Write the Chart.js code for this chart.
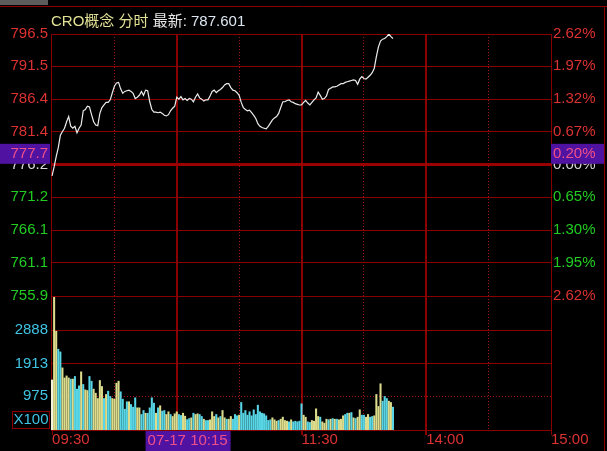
<!DOCTYPE html>
<html>
<head>
<meta charset="utf-8">
<script src="https://cdn.jsdelivr.net/npm/chart.js@4"></script>
<style>
  html, body { margin: 0; padding: 0; background: #000; }
  #wrap { position: relative; width: 607px; height: 451px; overflow: hidden; background: #000; }
  #wrap canvas { position: absolute; left: 0; top: 0; }
</style>
</head>
<body>
<div id="wrap">
  <canvas id="volChart" width="607" height="451"></canvas>
  <canvas id="priceChart" width="607" height="451"></canvas>
</div>
<script>
// index / quote info
const indexName = 'CRO概念';
const viewName = '分时';
const lastLabel = '最新:';
const lastValue = '787.601';
const prevClose = 776.2;

// price axis (ascending) and the matching percent labels
const priceTicks = [755.9, 761.1, 766.1, 771.2, 776.2, 781.4, 786.4, 791.5, 796.5];
const pctLabels = ['2.62%', '1.95%', '1.30%', '0.65%', '0.00%', '0.67%', '1.32%', '1.97%', '2.62%'];

// volume axis (x100)
const volTicks = [975, 1913, 2888];
const volMax = 3870;

// time axis, minutes from 09:30 (11:30 and 13:00 share index 120)
const gridMinutes = [30, 60, 90, 120, 150, 180, 210];
const timeTicks = [0, 60, 120, 180, 240];
const timeLabels = ['09:30', '10:30', '11:30', '14:00', '15:00'];

// crosshair read-out
const crossPrice = 777.7;
const crossPct = '0.20%';
const crossMinute = 45;
const crossTime = '07-17 10:15';

// one value per minute, 09:30 .. 13:44
const price = [
  774.5, 775.9, 777.5, 778.9, 780.8, 781.4, 781.9, 782.9, 783.7, 782.2,
  781.9, 782.2, 781.2, 781.9, 782.4, 784.6, 784.8, 785.3, 785.2, 784.0,
  782.9, 782.4, 782.3, 784.2, 785.1, 785.5, 785.9, 785.9, 786.3, 787.4,
  788.4, 788.9, 789.0, 788.0, 787.3, 787.6, 787.7, 787.8, 787.6, 787.3,
  786.5, 786.7, 787.0, 787.6, 787.0, 787.8, 787.7, 786.0, 784.8, 784.4,
  784.4, 784.3, 784.4, 784.2, 783.9, 783.8, 784.0, 784.6, 785.0, 785.3,
  786.7, 786.4, 786.8, 786.3, 786.5, 786.2, 786.5, 786.4, 786.0, 786.7,
  787.2, 786.6, 786.4, 786.1, 786.3, 786.3, 786.9, 787.6, 787.8, 787.4,
  787.7, 787.9, 788.2, 788.6, 788.8, 788.8, 788.2, 787.8, 787.7, 787.4,
  787.0, 785.9, 785.1, 784.8, 784.6, 784.7, 784.3, 783.9, 783.4, 782.6,
  782.2, 782.0, 781.9, 781.8, 782.2, 782.7, 783.2, 783.5, 783.7, 784.2,
  785.1, 786.0, 786.0, 786.2, 786.3, 786.0, 785.9, 785.7, 785.6, 785.5,
  785.5, 785.9, 786.2, 785.8, 785.5, 785.9, 786.3, 786.6, 787.5, 787.0,
  786.4, 786.5, 786.9, 787.9, 788.1, 788.3, 788.3, 788.4, 788.6, 788.8,
  788.8, 789.0, 789.1, 789.2, 789.3, 789.4, 789.3, 788.7, 789.5, 789.9,
  789.6, 789.5, 789.8, 790.1, 790.5, 791.2, 793.0, 794.5, 795.4, 795.7,
  795.8, 796.1, 796.5, 796.1, 795.8
];

const volume = [
  1445, 3835, 2852, 2333, 2255, 1794, 1504, 1562, 1504, 1470,
  1470, 1546, 1180, 1276, 1680, 1315, 1160, 1140, 1546, 1410,
  1180, 1063, 910, 1430, 1257, 910, 1026, 1121, 968, 910,
  890, 1352, 1410, 1104, 890, 600, 815, 815, 737, 660,
  930, 640, 640, 448, 563, 485, 485, 640, 930, 775,
  485, 640, 700, 545, 563, 448, 526, 448, 390, 468,
  526, 448, 420, 485, 400, 300,
  332, 352, 485, 448, 468, 448, 390, 312, 275, 275,
  295, 526, 390, 448, 352, 390, 563, 352, 312, 312,
  390, 312, 448, 410, 430, 795, 485, 563, 430, 526,
  410, 583, 448, 717, 526, 485, 468, 410, 275, 295,
  352, 295, 255, 275, 312, 371, 275, 255, 236, 295,
  236, 255, 236, 255,
  757,
  428, 370, 236, 217, 275, 255, 612, 390, 370, 236,
  197, 312, 295, 312, 330, 312, 312, 295, 312, 410,
  448, 485, 485, 505, 352, 333, 370, 583, 428, 428,
  370, 448, 370, 390, 410, 1026, 680, 1335, 833, 968,
  910, 833, 795, 660
];

// W = open, Y = up tick, C = down tick
const volSide = (
  'WYYCCYYYYC' + 'YCCCYCYYCC' + 'YYYYYCYCCY' + 'YYYCCCCYCC' + 'CYYCCYCCCC' + 'YCYCCYYCYY' + 'YCCYYC' +
  'CYCYYCCYCC' + 'YYYCYCYYCY' + 'YCCCYCCCCC' + 'CCCCCCCCCC' + 'YYYCYYYYCY' + 'CCCC' +
  'C' +
  'YYCCYYYYCY' + 'YYCYCYCYYY' + 'CCYCYCYYCC' + 'YYCCYYYYCC' + 'CYYC'
).split('');

const RED = '#dc3232';
const GREEN = '#22cc22';
const CYAN = '#40c4e4';
const GRID = '#8a0000';
const DOT = '#a81414';
const FONT = '"Liberation Sans", Arial, "Noto Sans CJK SC", sans-serif';
const font = { family: FONT, size: 15 };
const sideColor = { W: '#f2f2dc', Y: '#dcdc8c', C: '#58d6e6' };

function priceColor(v) {
  if (v > prevClose) return RED;
  if (v < prevClose) return GREEN;
  return '#d8d8d8';
}

const minorDash = c => (c.tick && c.tick.value % 60 ? [1, 2] : []);

const decor = {
  id: 'decor',
  afterDraw(chart) {
    const ctx = chart.ctx;
    const area = chart.chartArea;
    const ys = chart.scales.y;
    const xs = chart.scales.x;
    ctx.save();

    // window frame bits
    ctx.fillStyle = '#5c5c5c';
    ctx.fillRect(0, 0, 48, 5);
    ctx.strokeStyle = GRID;
    ctx.lineWidth = 1;
    ctx.beginPath();
    ctx.moveTo(0, 6.5); ctx.lineTo(607, 6.5);
    ctx.moveTo(604.5, 6); ctx.lineTo(604.5, 451);
    ctx.stroke();

    // header line
    ctx.font = '15px ' + FONT;
    ctx.textBaseline = 'middle';
    ctx.textAlign = 'left';
    let x = area.left;
    const ty = 22;
    ctx.fillStyle = '#e2e296';
    const head = indexName + ' ' + viewName + ' ';
    ctx.fillText(head, x, ty);
    x += ctx.measureText(head).width;
    ctx.fillStyle = '#e6e6e6';
    ctx.fillText(lastLabel + ' ', x, ty);
    x += ctx.measureText(lastLabel + ' ').width;
    ctx.fillStyle = '#dde6f0';
    ctx.fillText(lastValue, x, ty);

    // crosshair read-outs
    const cy = ys.getPixelForValue(crossPrice) - 1.5;
    const cx = xs.getPixelForValue(crossMinute);
    ctx.fillStyle = '#5012a0';
    ctx.fillRect(0, cy - 10, area.left - 1, 20);
    ctx.fillRect(area.right, cy - 10, 53, 20);
    ctx.fillRect(cx, 431, 85, 20);
    ctx.fillStyle = '#f0508a';
    ctx.textAlign = 'right';
    ctx.fillText(crossPrice.toFixed(1), area.left - 3, cy);
    ctx.textAlign = 'left';
    ctx.fillText(crossPct, area.right + 2, cy);
    ctx.fillText(crossTime, cx + 2, 441);
    ctx.restore();
  }
};

const unitBox = {
  id: 'unitBox',
  afterDraw(chart) {
    const ctx = chart.ctx;
    const area = chart.chartArea;
    ctx.save();
    ctx.strokeStyle = GRID;
    ctx.lineWidth = 1;
    ctx.strokeRect(12.5, area.bottom - 18.5, 37, 17);
    ctx.fillStyle = CYAN;
    ctx.font = '15px ' + FONT;
    ctx.textAlign = 'center';
    ctx.textBaseline = 'middle';
    ctx.fillText('X100', 31, area.bottom - 10);
    ctx.restore();
  }
};

const volChart = new Chart(document.getElementById('volChart'), {
  type: 'bar',
  data: {
    datasets: [{
      data: volume.map((v, i) => ({ x: i, y: v })),
      backgroundColor: volSide.map(s => sideColor[s]),
      barThickness: 1.4
    }]
  },
  options: {
    responsive: false,
    animation: false,
    events: [],
    layout: { padding: { top: 296, right: 56, left: 0, bottom: 0 } },
    plugins: { legend: { display: false }, tooltip: { enabled: false } },
    scales: {
      x: {
        type: 'linear', min: -0.5, max: 240, offset: false,
        afterBuildTicks: s => { s.ticks = [0].concat(gridMinutes, [240]).map(v => ({ value: v })); },
        afterFit: s => { s.height = 21; },
        ticks: {
          autoSkip: false, maxRotation: 0, align: 'start', padding: -4,
          color: RED, font: font,
          callback: v => (timeTicks.indexOf(v) >= 0 ? timeLabels[timeTicks.indexOf(v)] : '')
        },
        grid: {
          offset: false, tickLength: 5,
          color: c => (c.tick && c.tick.value === 0 ? 'rgba(0,0,0,0)' : (c.tick && c.tick.value % 60 ? DOT : GRID)),
          lineWidth: c => (c.tick && c.tick.value % 60 === 0 && c.tick.value > 0 && c.tick.value < 240 ? 2 : 1),
          tickColor: c => (c.tick && c.tick.value % 60 ? 'rgba(0,0,0,0)' : GRID)
        },
        border: { color: GRID, dash: minorDash }
      },
      y: {
        min: 0, max: volMax,
        afterBuildTicks: s => { s.ticks = volTicks.map(v => ({ value: v })); },
        afterFit: s => { s.width = 51; },
        ticks: { color: CYAN, font: font, padding: 3, callback: v => String(v) },
        grid: { drawTicks: false, color: c => (c.tick && c.tick.value === volTicks[0] ? DOT : GRID) },
        border: { color: GRID, dash: c => (c.tick && c.tick.value === volTicks[0] ? [1, 2] : []) }
      }
    }
  },
  plugins: [unitBox]
});

const priceChart = new Chart(document.getElementById('priceChart'), {
  type: 'line',
  data: {
    datasets: [{
      data: price.map((p, i) => ({ x: i, y: p })),
      borderColor: '#ececec',
      borderWidth: 1.2,
      pointRadius: 0,
      tension: 0
    }]
  },
  options: {
    responsive: false,
    animation: false,
    events: [],
    layout: { padding: { top: 34, bottom: 155, left: 0, right: 0 } },
    plugins: { legend: { display: false }, tooltip: { enabled: false } },
    scales: {
      x: {
        type: 'linear', min: -0.5, max: 240,
        afterBuildTicks: s => { s.ticks = gridMinutes.map(v => ({ value: v })); },
        afterFit: s => { s.height = 0; },
        ticks: { display: false },
        grid: {
          drawTicks: false,
          color: c => (c.tick && c.tick.value % 60 ? DOT : GRID),
          lineWidth: c => (c.tick && c.tick.value % 60 ? 1 : 2)
        },
        border: { display: false, dash: minorDash }
      },
      y: {
        position: 'left', min: priceTicks[0], max: priceTicks[priceTicks.length - 1],
        afterBuildTicks: s => { s.ticks = priceTicks.map(v => ({ value: v })); },
        afterFit: s => { s.width = 51; },
        ticks: {
          font: font, padding: 3,
          color: c => priceColor(c.tick.value),
          callback: v => v.toFixed(1)
        },
        grid: {
          drawTicks: false,
          color: c => (c.tick && c.tick.value === prevClose ? '#9a0000' : GRID),
          lineWidth: c => (c.tick && c.tick.value === prevClose ? 3 : 1)
        },
        border: { color: GRID }
      },
      y2: {
        position: 'right', min: priceTicks[0], max: priceTicks[priceTicks.length - 1],
        afterBuildTicks: s => { s.ticks = priceTicks.map(v => ({ value: v })); },
        afterFit: s => { s.width = 56; },
        ticks: {
          font: font, padding: 2,
          // bottom row is shown in red in the reference
          color: c => (c.index === 0 ? RED : priceColor(c.tick.value)),
          callback: (v, i) => pctLabels[i]
        },
        grid: { drawOnChartArea: false, drawTicks: false },
        border: { color: GRID }
      }
    }
  },
  plugins: [decor]
});
</script>
</body>
</html>
